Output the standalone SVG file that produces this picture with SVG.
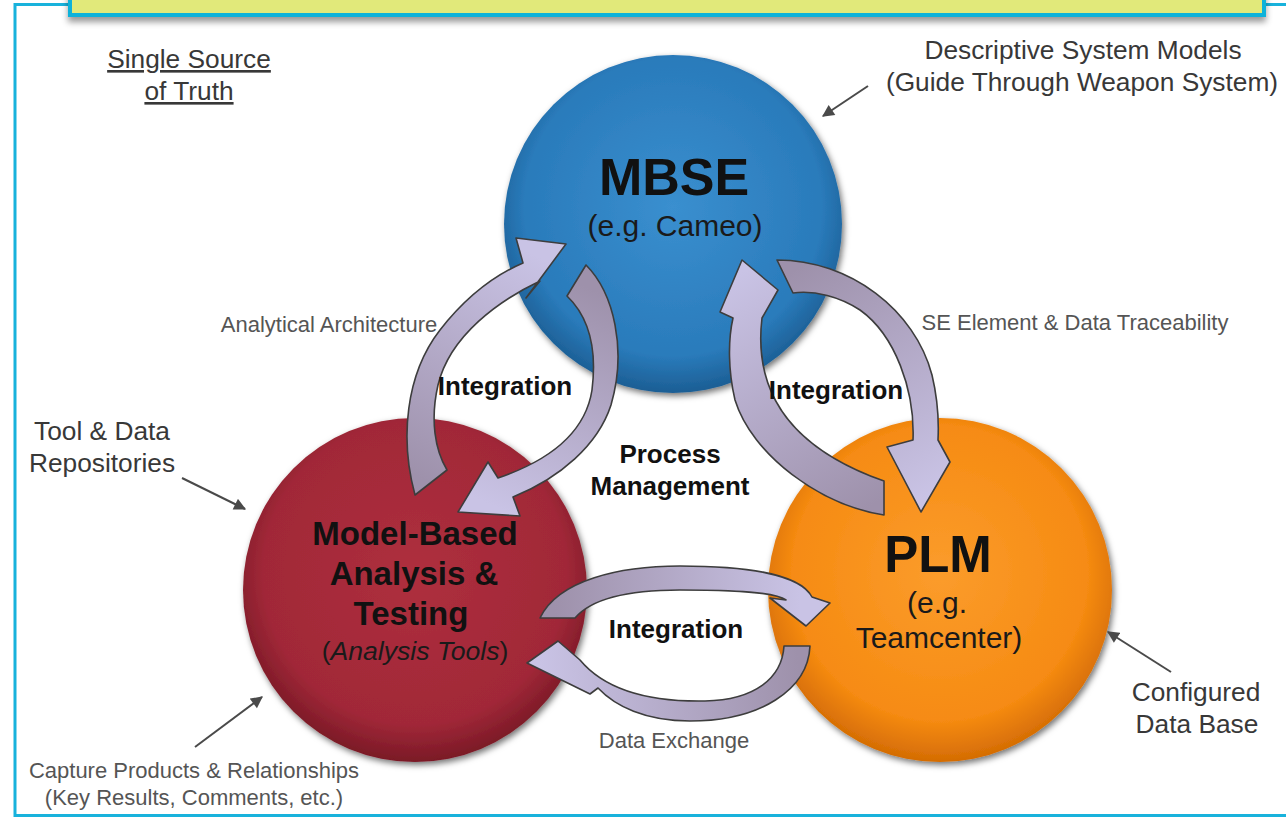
<svg xmlns="http://www.w3.org/2000/svg" width="1286" height="817" viewBox="0 0 1286 817">
<defs>
<style>
text{font-family:"Liberation Sans",Arial,sans-serif;text-anchor:middle}
.lbl{fill:#555;font-size:22px}
.note{fill:#383838;font-size:26.3px}
.big{font-weight:bold;fill:#111}
.sub{fill:#1a1a1a;font-size:30px}
.intg{font-weight:bold;fill:#111;font-size:26px}
.arr{stroke:#3d3d3d;stroke-width:1.6;stroke-linejoin:round}
.ptr{stroke:#4a4a4a;stroke-width:2;fill:none}
</style>
<radialGradient id="gBlue" cx="50%" cy="45%" r="55%">
<stop offset="0" stop-color="#3a8fcf"/><stop offset="0.8" stop-color="#2a7bbb"/><stop offset="1" stop-color="#1c5e94"/>
</radialGradient>
<radialGradient id="gRed" cx="50%" cy="45%" r="55%">
<stop offset="0" stop-color="#ae2f3d"/><stop offset="0.8" stop-color="#a12838"/><stop offset="1" stop-color="#7a1926"/>
</radialGradient>
<radialGradient id="gOrange" cx="50%" cy="45%" r="55%">
<stop offset="0" stop-color="#fb9c2c"/><stop offset="0.78" stop-color="#f68b12"/><stop offset="1" stop-color="#d46c04"/>
</radialGradient>
<linearGradient id="gA" gradientUnits="userSpaceOnUse" x1="430" y1="483" x2="545" y2="260"><stop offset="0" stop-color="#9e91ab"/><stop offset="1" stop-color="#c9c3e5"/></linearGradient>
<linearGradient id="gB" gradientUnits="userSpaceOnUse" x1="575" y1="282" x2="480" y2="500"><stop offset="0" stop-color="#9e91ab"/><stop offset="1" stop-color="#c9c3e5"/></linearGradient>
<linearGradient id="gC" gradientUnits="userSpaceOnUse" x1="884" y1="498" x2="745" y2="270"><stop offset="0" stop-color="#9e91ab"/><stop offset="1" stop-color="#c9c3e5"/></linearGradient>
<linearGradient id="gD" gradientUnits="userSpaceOnUse" x1="785" y1="276" x2="920" y2="500"><stop offset="0" stop-color="#9e91ab"/><stop offset="1" stop-color="#c9c3e5"/></linearGradient>
<linearGradient id="gE" gradientUnits="userSpaceOnUse" x1="555" y1="617" x2="800" y2="610"><stop offset="0" stop-color="#9e91ab"/><stop offset="1" stop-color="#c9c3e5"/></linearGradient>
<linearGradient id="gF" gradientUnits="userSpaceOnUse" x1="797" y1="646" x2="540" y2="665"><stop offset="0" stop-color="#9e91ab"/><stop offset="1" stop-color="#c9c3e5"/></linearGradient>
<filter id="shadow" x="-20%" y="-20%" width="140%" height="140%">
<feDropShadow dx="2" dy="3" stdDeviation="3" flood-color="#000" flood-opacity="0.55"/>
</filter>
<filter id="barShadow" x="-5%" y="-50%" width="110%" height="200%">
<feDropShadow dx="0" dy="5" stdDeviation="3" flood-color="#000" flood-opacity="0.4"/>
</filter>
<marker id="ptrHead" viewBox="0 0 10 10" refX="9" refY="5" markerWidth="6.5" markerHeight="6" orient="auto" markerUnits="strokeWidth">
<path d="M0,0 L10,5 L0,10 z" fill="#4a4a4a"/>
</marker>
</defs>

<rect x="0" y="0" width="1286" height="817" fill="#ffffff"/>

<g id="frame">
<rect x="15" y="4.5" width="1290" height="811" fill="none" stroke="#18b2dc" stroke-width="3"/>
<rect x="70" y="-40" width="1194" height="55" fill="#e1e97a" stroke="#08b2da" stroke-width="4" filter="url(#barShadow)"/>
</g>

<g id="node-mbse">
<circle cx="673" cy="224" r="169" fill="url(#gBlue)" filter="url(#shadow)"/>
</g>
<g id="node-mbat">
<circle cx="415" cy="590" r="172" fill="url(#gRed)" filter="url(#shadow)"/>
</g>
<g id="node-plm">
<circle cx="940" cy="590" r="172" fill="url(#gOrange)" filter="url(#shadow)"/>
</g>

<g id="connectors">
<path id="arrow-a" class="arr" fill="url(#gA)" d="M415,495 C400,440 405,375 440,330 C465,298 495,275 523,263 L516,238 L566,244 L526,298 L540,281 C500,300 450,335 438,385 C430,420 435,450 447,470 Z"/>
<path id="arrow-b" class="arr" fill="url(#gB)" d="M586,265 C614,293 627,350 611,405 C598,445 560,478 513,497 L520,516 L458,512 L488,462 L498,478 C545,462 585,435 592,390 C597,350 590,318 567,296 Z"/>
<path id="arrow-c" class="arr" fill="url(#gC)" d="M884,515 C820,505 752,455 735,400 C728,370 728,340 733,318 L720,312 L742,260 L778,290 L762,318 C754,385 782,445 884,481 Z"/>
<path id="arrow-d" class="arr" fill="url(#gD)" d="M777,260 C850,260 915,310 932,375 C938,400 939,420 938,440 L950,462 L921,512 L887,447 L913,440 C915,390 895,335 860,310 C840,297 815,290 793,293 Z"/>
<path id="arrow-e" class="arr" fill="url(#gE)" d="M540,618 C558,580 620,566 680,566 C745,566 800,574 812,597 L830,603 L806,626 L770,598 L786,600 C775,592 735,590 680,590 C630,590 592,598 575,618 Z"/>
<path id="arrow-f" class="arr" fill="url(#gF)" d="M810,646 C808,690 760,721 690,721 C645,721 615,706 598,688 L590,694 L527,663 L558,641 L580,660 C605,690 650,702 705,701 C755,700 782,678 784,646 Z"/>
<line class="ptr" x1="868" y1="86" x2="823" y2="116" marker-end="url(#ptrHead)"/>
<line class="ptr" x1="182" y1="478" x2="245" y2="509" marker-end="url(#ptrHead)"/>
<line class="ptr" x1="195" y1="747" x2="262" y2="697" marker-end="url(#ptrHead)"/>
<line class="ptr" x1="1171" y1="672" x2="1108" y2="632" marker-end="url(#ptrHead)"/>
<text class="intg" x="505" y="395">Integration</text>
<text class="intg" x="836" y="399">Integration</text>
<text class="intg" x="676" y="638">Integration</text>
<text class="lbl" x="329" y="332">Analytical Architecture</text>
<text class="lbl" x="1075" y="330">SE Element &amp; Data Traceability</text>
<text class="lbl" x="674" y="748">Data Exchange</text>
</g>

<g id="node-mbse-text">
<text class="big" x="674" y="195" style="font-size:52px">MBSE</text>
<text class="sub" x="675" y="236">(e.g. Cameo)</text>
</g>
<g id="node-mbat-text">
<text class="big" x="415" y="545" style="font-size:33px">Model-Based</text>
<text class="big" x="414" y="585" style="font-size:33px">Analysis &amp;</text>
<text class="big" x="411" y="625" style="font-size:33px">Testing</text>
<text x="415" y="660" style="font-size:26.6px;fill:#1a1a1a">(<tspan font-style="italic">Analysis Tools</tspan>)</text>
</g>
<g id="node-plm-text">
<text class="big" x="938" y="572" style="font-size:51px">PLM</text>
<text class="sub" x="937" y="613">(e.g.</text>
<text class="sub" x="939" y="648">Teamcenter)</text>
</g>

<g id="center-label">
<text class="big" x="670" y="463" style="font-size:26px">Process</text>
<text class="big" x="670" y="495" style="font-size:26px">Management</text>
</g>

<g id="annotations">
<text class="note" x="189" y="68" text-decoration="underline">Single Source</text>
<text class="note" x="189" y="100" text-decoration="underline">of Truth</text>
<text class="note" x="1083" y="59">Descriptive System Models</text>
<text class="note" x="1082" y="91">(Guide Through Weapon System)</text>
<text class="note" x="102" y="440">Tool &amp; Data</text>
<text class="note" x="102" y="472">Repositories</text>
<text class="note" x="1196" y="701">Configured</text>
<text class="note" x="1197" y="733">Data Base</text>
<text class="lbl" x="194" y="778">Capture Products &amp; Relationships</text>
<text class="lbl" x="194" y="805">(Key Results, Comments, etc.)</text>
</g>
</svg>
